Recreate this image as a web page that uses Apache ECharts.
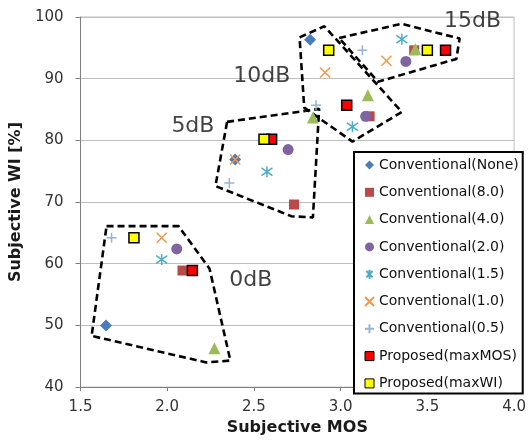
<!DOCTYPE html>
<html><head><meta charset="utf-8">
<script src="https://cdn.jsdelivr.net/npm/echarts@6/dist/echarts.min.js"></script>
<style>html,body{margin:0;padding:0;background:#fff}#c{width:529px;height:441px}</style>
</head><body><div id="c"></div>
<script>
// ---- data (Subjective MOS, Subjective WI [%]) ----
var seriesNames = ['Conventional(None)','Conventional(8.0)','Conventional(4.0)','Conventional(2.0)','Conventional(1.5)','Conventional(1.0)','Conventional(0.5)','Proposed(maxMOS)','Proposed(maxWI)'];
var convNone = [[1.647,50.0],[2.392,76.9],[2.824,96.3]];
var conv80   = [[2.088,58.9],[2.731,69.6],[3.167,83.9],[3.424,94.6]];
var conv40   = [[2.272,46.3],[2.840,83.7],[3.157,87.3],[3.430,94.8]];
var conv20   = [[2.055,62.4],[2.697,78.5],[3.144,83.9],[3.376,92.8]];
var conv15   = [[1.968,60.7],[2.575,74.9],[3.068,82.2],[3.353,96.4]];
var conv10   = [[1.968,64.2],[2.392,76.9],[2.910,91.0],[3.264,92.9]];
var conv05   = [[1.679,64.2],[2.358,73.1],[2.858,85.7],[3.125,94.6]];
var propMaxMOS = [[2.145,58.9],[2.602,80.2],[3.035,85.7],[3.605,94.6]];
var propMaxWI  = [[1.808,64.2],[2.558,80.2],[2.931,94.6],[3.500,94.6]];

// SNR group outlines (data units) and their labels
var groupNames = ['0dB','5dB','10dB','15dB'];
var outline0dB  = [[1.650,66.1],[2.065,66.1],[2.244,59.2],[2.364,44.3],[2.225,44.0],[1.564,48.3],[1.650,66.1]];
var outline5dB  = [[2.345,83.0],[2.876,85.1],[2.840,67.5],[2.716,67.7],[2.278,72.6],[2.345,83.0]];
var outline10dB = [[2.763,96.7],[2.906,98.5],[3.353,84.6],[3.068,79.8],[2.790,85.3],[2.763,96.7]];
var outline15dB = [[2.991,96.6],[3.353,98.9],[3.686,96.5],[3.667,93.2],[3.215,89.5],[2.991,96.6]];
var groupLabelPos = [[2.482,57.3],[2.148,82.3],[2.545,90.35],[3.760,99.3]];

var xTicks = [1.5, 2.0, 2.5, 3.0, 3.5, 4.0];
var yTicks = [40, 50, 60, 70, 80, 90, 100];

// ---- styling ----
var FONT = 'DejaVu Sans';
var ast = 'path://M1.5,1.5L8.5,8.5M8.5,1.5L1.5,8.5M5,0L5,10';
var cross = 'path://M0,0L10,10M10,0L0,10';
var plus = 'path://M0,5L10,5M5,0L5,10';

function pt(name, data, symbol, size, fill, border, bw) {
  return {
    name: name, type: 'scatter', data: data, symbol: symbol, symbolSize: size, z: 3,
    itemStyle: { color: fill, borderColor: border, borderWidth: bw, opacity: 1 }
  };
}
function outline(data) {
  return {
    type: 'line', data: data, showSymbol: false, symbol: 'none', silent: true, z: 2,
    lineStyle: { color: '#000', width: 2.6, type: [7, 4] }, animation: false
  };
}

var series = [
  outline(outline0dB), outline(outline5dB), outline(outline10dB), outline(outline15dB),
  pt(seriesNames[0], convNone, 'diamond', 12, '#4a7ebb', '#4a7ebb', 0),
  pt(seriesNames[1], conv80, 'rect', 10, '#b94a47', '#b94a47', 0),
  pt(seriesNames[2], conv40, 'triangle', 12, '#9bbb59', '#9bbb59', 0),
  pt(seriesNames[3], conv20, 'circle', 11, '#8064a2', '#8064a2', 0),
  pt(seriesNames[4], conv15, ast, 11, 'rgba(0,0,0,0)', '#4bacc6', 1.5),
  pt(seriesNames[5], conv10, cross, 10, 'rgba(0,0,0,0)', '#f79646', 1.5),
  pt(seriesNames[6], conv05, plus, 10, 'rgba(0,0,0,0)', '#95b3d7', 1.5),
  pt(seriesNames[7], propMaxMOS, 'rect', 10, '#ff0000', '#000', 1.5),
  pt(seriesNames[8], propMaxWI, 'rect', 10, '#ffff00', '#000', 1.5),
  {
    type: 'scatter', silent: true, symbolSize: 1, z: 4,
    itemStyle: { color: 'rgba(0,0,0,0)' },
    data: groupNames.map(function (n, i) { return { name: n, value: groupLabelPos[i] }; }),
    label: { show: true, position: 'inside', formatter: '{b}', fontFamily: FONT, fontSize: 22, color: '#111' }
  }
];

var legendData = seriesNames.map(function (n, i) {
  return i >= 7 ? { name: n, itemStyle: { borderWidth: 1 } } : { name: n };
});

var chart = echarts.init(document.getElementById('c'), null, { renderer: 'canvas' });
chart.setOption({
  animation: false,
  backgroundColor: '#fff',
  grid: { left: 77, right: 14, top: 17, bottom: 49, show: true, borderColor: '#bfbfbf', borderWidth: 1 },
  xAxis: {
    type: 'value', min: xTicks[0], max: xTicks[xTicks.length - 1], interval: 0.5,
    name: 'Subjective MOS', nameLocation: 'middle', nameGap: 29,
    nameTextStyle: { fontFamily: FONT, fontSize: 16, fontWeight: 'bold', color: '#1a1a1a' },
    axisLine: { show: true, lineStyle: { color: '#7f7f7f', width: 1 } },
    axisTick: { show: true, length: 4, lineStyle: { color: '#7f7f7f' } },
    axisLabel: { margin: 13, fontFamily: FONT, fontSize: 15, color: '#333', formatter: function (v) { return v.toFixed(1); } },
    splitLine: { show: false }
  },
  yAxis: {
    type: 'value', min: yTicks[0], max: yTicks[yTicks.length - 1], interval: 10,
    name: 'Subjective WI [%]', nameLocation: 'middle', nameGap: 46,
    nameTextStyle: { fontFamily: FONT, fontSize: 16, fontWeight: 'bold', color: '#1a1a1a' },
    axisLine: { show: true, lineStyle: { color: '#7f7f7f', width: 1 } },
    axisTick: { show: true, length: 5, lineStyle: { color: '#7f7f7f' } },
    axisLabel: { margin: 17, fontFamily: FONT, fontSize: 15, color: '#333' },
    splitLine: { show: true, lineStyle: { color: '#bfbfbf', width: 1 } }
  },
  legend: {
    data: legendData, orient: 'vertical', left: 354, top: 152,
    backgroundColor: '#fff', borderColor: '#000', borderWidth: 2,
    padding: [5, 4, 2, 10], itemGap: 11.3, itemWidth: 9, itemHeight: 9,
    textStyle: { fontFamily: FONT, fontSize: 14, color: '#111', lineHeight: 16 },
    selectedMode: false
  },
  series: series
});
</script>
</body></html>
